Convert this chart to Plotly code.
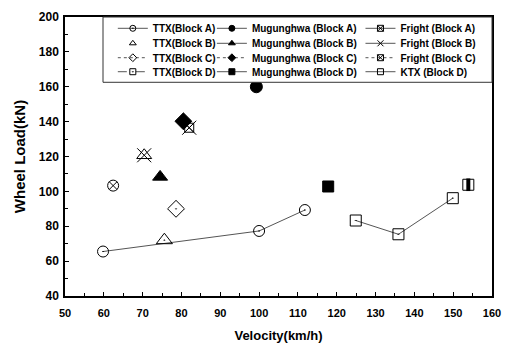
import plotly.graph_objects as go

# Data (velocity km/h, wheel load kN)
ttx_a_v = [59.8, 100.0, 111.8]
ttx_a_w = [65.5, 77.3, 89.3]
ttx_b_v = [75.6]
ttx_b_w = [72.0]
ttx_c_v = [78.6]
ttx_c_w = [90.0]
ttx_d_v = [124.9, 135.9, 149.9]
ttx_d_w = [83.3, 75.4, 96.1]
mug_a_v = [99.3]
mug_a_w = [160.0]
mug_b_v = [74.5]
mug_b_w = [108.3]
mug_c_v = [80.5]
mug_c_w = [140.2]
mug_d_v = [117.8]
mug_d_w = [102.8]
fr_a_v = [62.4]
fr_a_w = [103.3]
fr_b_v = [70.4]
fr_b_w = [120.7]
fr_c_v = [82.0]
fr_c_w = [136.5]
ktx_d_v = [153.9]
ktx_d_w = [103.8]

series_names = [
    "TTX(Block A)", "Mugunghwa (Block A)", "Fright (Block A)",
    "TTX(Block B)", "Mugunghwa (Block B)", "Fright (Block B)",
    "TTX(Block C)", "Mugunghwa (Block C)", "Fright (Block C)",
    "TTX(Block D)", "Mugunghwa (Block D)", "KTX (Block D)",
]

x_ticks = list(range(50, 161, 10))
y_ticks = list(range(40, 201, 20))

FONT = "Arial, Liberation Sans, sans-serif"
LC = "#555555"
K = "black"
fig = go.Figure()


def data_trace(x, y, symbol, size, lines=False, lw=1.0):
    fig.add_trace(go.Scatter(
        x=x, y=y, mode="lines+markers" if lines else "markers", showlegend=False,
        line=dict(color=LC, width=lw),
        marker=dict(symbol=symbol, size=size, color=K, line=dict(color=K, width=1)),
    ))


# plotted data
data_trace(ttx_a_v, ttx_a_w, "circle-open-dot", 11, lines=True)
data_trace(ttx_b_v, ttx_b_w, "triangle-up-open-dot", 14)
data_trace(ttx_c_v, ttx_c_w, "diamond-open-dot", 13)
data_trace(ttx_d_v, ttx_d_w, "square-open-dot", 11, lines=True)
data_trace(mug_a_v, mug_a_w, "circle", 12)
data_trace(mug_b_v, mug_b_w, "triangle-up", 13)
data_trace(mug_c_v, mug_c_w, "diamond", 13)
data_trace(mug_d_v, mug_d_w, "square", 11)
data_trace(fr_a_v, fr_a_w, "circle-x-open", 11)
data_trace(fr_b_v, fr_b_w, "triangle-up-open", 13)
data_trace(fr_b_v, fr_b_w, "x-thin-open", 14)
data_trace(fr_c_v, fr_c_w, "square-x-open", 9)
data_trace(fr_c_v, fr_c_w, "x-thin-open", 14)
data_trace(ktx_d_v, ktx_d_w, "square-open", 11)
fig.add_trace(go.Scatter(x=ktx_d_v, y=ktx_d_w, mode="markers", showlegend=False,
                         marker=dict(symbol="line-ns-open", size=9, color=K,
                                     line=dict(color=K, width=4))))

# legend-only entries (small symbols, like the reference)
leg_symbols = [
    "circle-open-dot", "circle", "square-x-open",
    "triangle-up-open", "triangle-up", "x-thin-open",
    "diamond-open", "diamond", "square-x-open",
    "square-open-dot", "square", "square-open",
]
leg_modes = ["lines+markers", "lines+markers", "lines+markers",
             "markers", "lines+markers", "lines+markers",
             "lines+markers", "lines+markers", "lines+markers",
             "lines+markers", "lines+markers", "lines+markers"]
leg_dash = ["solid", "solid", "solid",
            "solid", "solid", "solid",
            "dot", "dot", "dot",
            "dash", "solid", "solid"]
col_x = [0.112, 0.344, 0.692]
row_y = [0.9595, 0.9057, 0.8541, 0.8039]

legend_layouts = {}
for i, name in enumerate(series_names):
    lid = "legend" if i == 0 else f"legend{i + 1}"
    fig.add_trace(go.Scatter(
        x=[None], y=[None], name=name, mode=leg_modes[i], legend=lid,
        line=dict(color=LC, width=1, dash=leg_dash[i]),
        marker=dict(symbol=leg_symbols[i], size=6, color=K, line=dict(color=K, width=1)),
    ))
    legend_layouts[lid] = dict(
        x=col_x[i % 3], xanchor="left", y=row_y[i // 3], yanchor="middle",
        bgcolor="rgba(0,0,0,0)", borderwidth=0, itemwidth=30,
        font=dict(family=FONT, size=10, color="black", weight="bold"),
    )

axis_common = dict(
    showline=True, linecolor="black", linewidth=1.5, mirror=True,
    ticks="inside", ticklen=4, tickwidth=1, tickcolor="black",
    showgrid=False, zeroline=False, automargin=False,
)

fig.update_xaxes(range=[50, 160], tickvals=x_ticks, ticklabelstandoff=6, **axis_common,
                 tickfont=dict(family=FONT, size=11, color="black", weight="bold"),
                 minor=dict(ticks="inside", ticklen=3, tickcolor="black", dtick=5),
                 title=dict(text="Velocity(km/h)", standoff=13,
                            font=dict(family=FONT, size=13, color="black", weight="bold")))
fig.update_yaxes(range=[40, 200], tickvals=y_ticks, ticklabelstandoff=2, **axis_common,
                 tickfont=dict(family=FONT, size=12, color="black", weight="bold"),
                 minor=dict(ticks="inside", ticklen=3, tickcolor="black", dtick=10),
                 title=dict(text="Wheel Load(kN)", standoff=10,
                            font=dict(family=FONT, size=15, color="black", weight="bold")))

fig.update_layout(
    width=509, height=347,
    margin=dict(l=65, r=17, t=17, b=51),
    paper_bgcolor="white", plot_bgcolor="white",
    showlegend=True,
    shapes=[dict(type="rect", xref="paper", yref="paper",
                 x0=0.089, x1=1.0, y0=0.766, y1=1.0,
                 line=dict(color="#333333", width=1), fillcolor="white", layer="above")],
    **legend_layouts,
)

fig.write_html("out.html")
